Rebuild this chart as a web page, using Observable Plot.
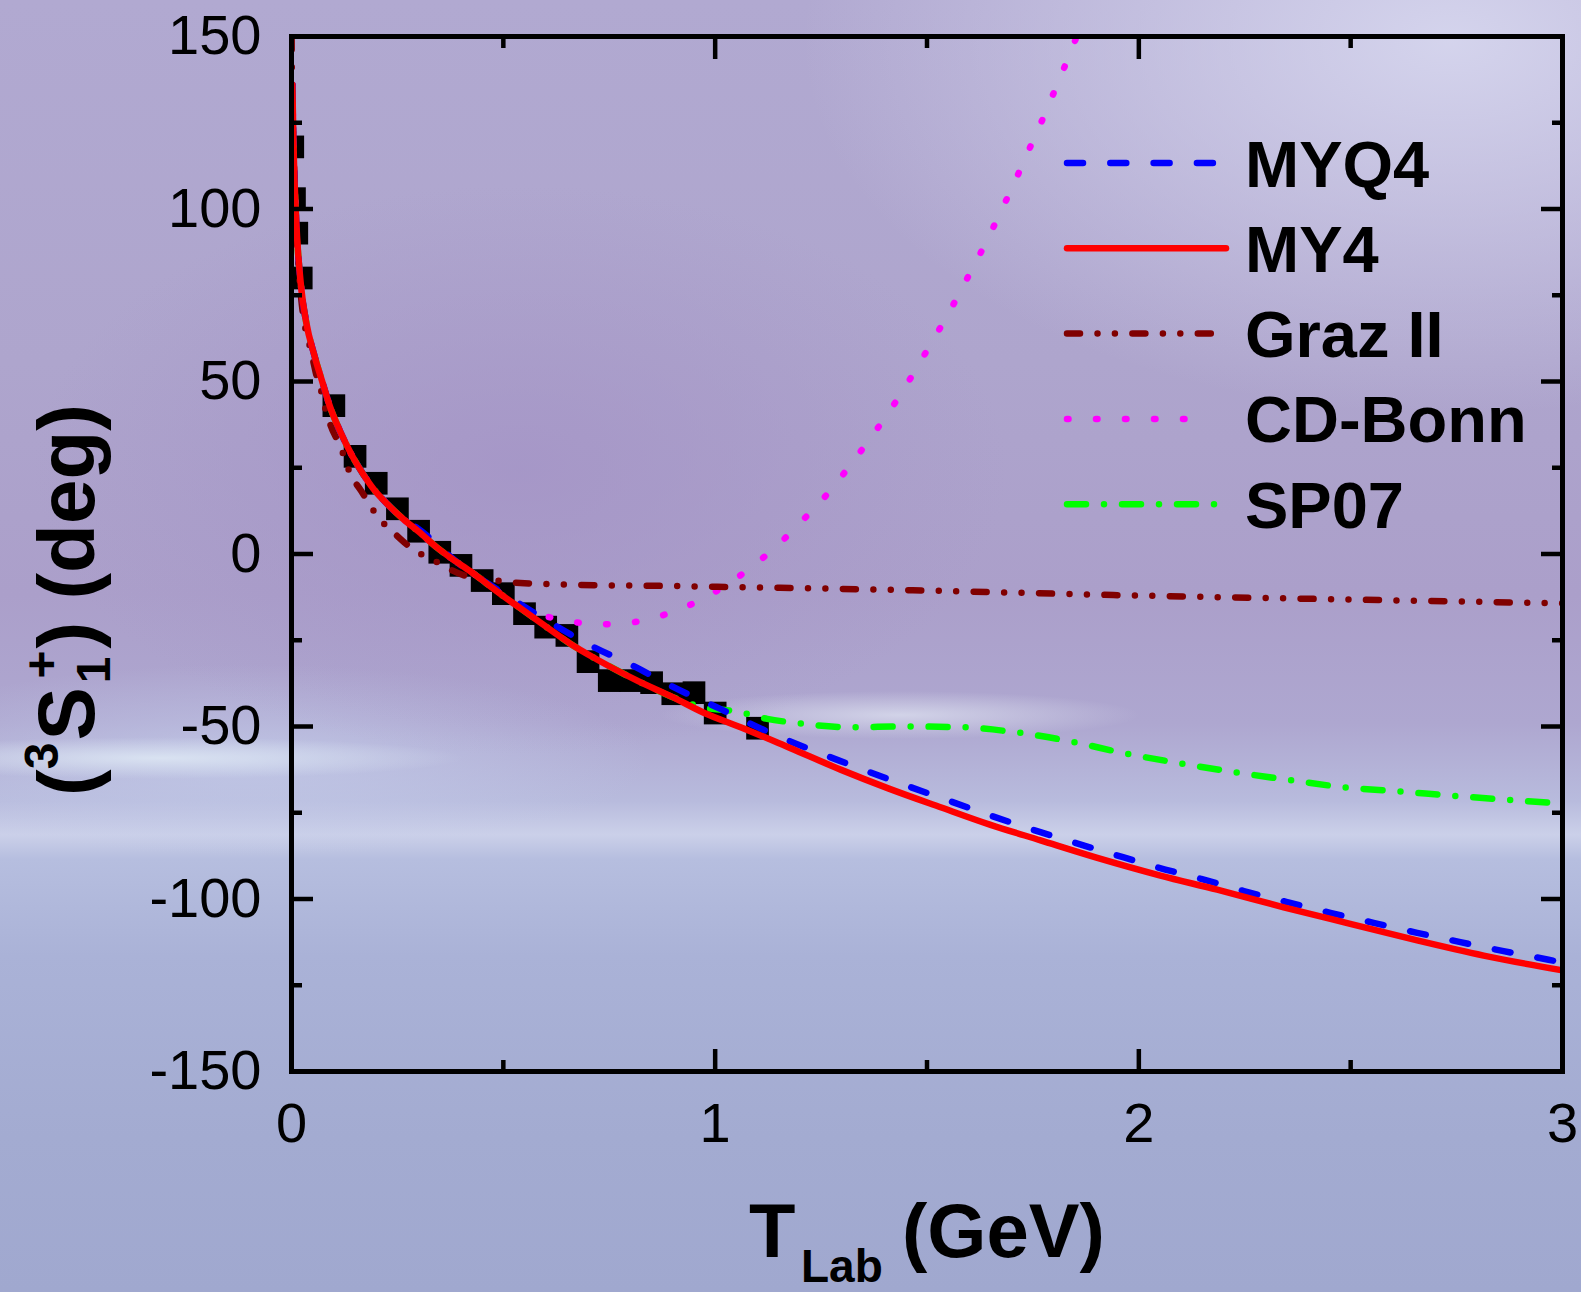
<!DOCTYPE html>
<html>
<head>
<meta charset="utf-8">
<script src="https://cdn.jsdelivr.net/npm/d3@7"></script>
<script src="https://cdn.jsdelivr.net/npm/@observablehq/plot@0.6"></script>
<style>
html, body { margin: 0; padding: 0; width: 1581px; height: 1292px; overflow: hidden; }
body {
  background:
    radial-gradient(ellipse 900px 520px at 1450px 40px, rgba(214,214,238,0.95), rgba(214,214,238,0) 72%),
    radial-gradient(ellipse 650px 380px at 520px 470px, rgba(164,148,198,0.8), rgba(164,148,198,0) 75%),
    radial-gradient(ellipse 380px 26px at 160px 758px, rgba(222,232,244,0.85), rgba(222,232,244,0) 80%),
    radial-gradient(ellipse 300px 30px at 900px 715px, rgba(225,230,242,0.7), rgba(225,230,242,0) 80%),
    radial-gradient(ellipse 500px 120px at 250px 760px, rgba(196,205,234,0.7), rgba(196,205,234,0) 80%),
    linear-gradient(to bottom, #b1a9d1 0%, #aea5cd 28%, #ab9fca 46%, #aea7d0 56%, #b8bbdd 62%, #cbd0e9 64.6%, #b6bedf 66.5%, #aab2d7 74%, #a3abd1 88%, #a0a8cf 100%);
}
svg { display: block; }
</style>
</head>
<body>
<div id="chart"></div>
<script>
// ---- tick values ----
const xMajor = [0, 1, 2, 3];
const xMinor = [0.5, 1.5, 2.5];
const yMajor = [-150, -100, -50, 0, 50, 100, 150];
const yMinor = [-125, -75, -25, 25, 75, 125];

// ---- experimental points (squares) ----
const expT = [0.003, 0.007, 0.0125, 0.023, 0.1, 0.15, 0.2, 0.25, 0.3, 0.35, 0.4, 0.45, 0.5, 0.55, 0.6, 0.65, 0.7, 0.75, 0.8, 0.85, 0.9, 0.95, 1.0, 1.1];
const expV = [118, 103, 93, 80, 43, 28.3, 20.5, 13.1, 6.6, 0.5, -3.3, -7.7, -11.5, -17.3, -21.2, -23.6, -31.2, -36.7, -36.7, -37.3, -40.5, -40.2, -46.1, -50.5];

// ---- MYQ4 ----
const myq4T = [0.002, 0.005, 0.011, 0.023, 0.035, 0.053, 0.075, 0.09, 0.115, 0.143, 0.17, 0.194, 0.222, 0.265, 0.297, 0.395, 0.501, 0.603, 0.706, 0.808, 0.91, 1.012, 1.115, 1.323, 1.528, 1.732, 1.941, 2.043, 2.145, 2.248, 2.35, 2.452, 2.554, 2.657, 2.759, 2.861, 2.967, 3.0];
const myq4V = [136, 117, 97, 77, 67, 58, 49, 43, 35.5, 28.5, 23, 18.8, 15, 10, 7.5, -2.8, -11.5, -19.3, -26.5, -32.5, -39.1, -44.9, -51, -61.3, -70.5, -79.2, -87.1, -90.8, -94.1, -97.7, -100.9, -104, -106.9, -109.8, -112.5, -115.1, -117.6, -118.4];

// ---- MY4 ----
const my4T = [0.002, 0.005, 0.011, 0.023, 0.035, 0.053, 0.075, 0.09, 0.115, 0.143, 0.17, 0.194, 0.222, 0.265, 0.3, 0.344, 0.38, 0.422, 0.46, 0.501, 0.54, 0.6, 0.658, 0.72, 0.816, 0.9, 0.973, 1.06, 1.178, 1.296, 1.41, 1.532, 1.65, 1.768, 1.9, 2.051, 2.185, 2.342, 2.499, 2.657, 2.814, 3.0];
const my4V = [136, 117, 97, 77, 67, 58, 49, 43, 35.5, 28.5, 23, 18.8, 15, 10, 6.5, 1.8, -1.5, -5, -8.5, -12.3, -15.7, -21, -26, -30.5, -36.7, -41.5, -46, -50.2, -56.3, -62.5, -68, -73.4, -78.5, -83, -88, -93.2, -97.3, -102.4, -107.2, -112, -116.4, -120.7];

// ---- Graz II ----
const grazT = [0.0003, 0.001, 0.005, 0.011, 0.02, 0.027, 0.041, 0.05, 0.061, 0.068, 0.08, 0.092, 0.116, 0.139, 0.165, 0.202, 0.248, 0.283, 0.336, 0.407, 0.485, 0.54, 0.635, 0.737, 0.847, 1.005, 1.154, 1.5, 1.94, 2.5, 3.0];
const grazV = [150, 138, 117, 96, 78, 69.6, 61.4, 56.6, 50.8, 48.2, 42.1, 37.4, 31, 23.2, 18.2, 11.1, 5.4, 1.7, -1.9, -6.2, -7.7, -8.4, -8.8, -9.1, -9.2, -9.5, -9.8, -10.6, -11.9, -13.2, -14.3];

// ---- CD-Bonn ----
const cdbT = [0.002, 0.005, 0.011, 0.023, 0.035, 0.053, 0.075, 0.09, 0.115, 0.143, 0.17, 0.194, 0.222, 0.265, 0.3, 0.344, 0.38, 0.422, 0.46, 0.501, 0.55, 0.6, 0.662, 0.724, 0.784, 0.846, 0.908, 0.969, 1.032, 1.091, 1.152, 1.213, 1.269, 1.318, 1.363, 1.407, 1.447, 1.484, 1.52, 1.555, 1.588, 1.62, 1.651, 1.681, 1.709, 1.736, 1.764, 1.79, 1.816, 1.841, 1.86];
const cdbV = [136, 117, 97, 77, 67, 58, 49, 43, 35.5, 28.5, 23, 18.8, 15, 10, 6.5, 1.8, -1.5, -5, -8.5, -12, -15.5, -18, -19.6, -20.4, -20.1, -18.8, -16.4, -13.1, -8.5, -3.3, 3.1, 10.6, 18, 25.6, 33, 40.6, 48.1, 55.7, 63.2, 70.7, 78.3, 85.7, 93.3, 101, 108.4, 115.9, 123.5, 131, 138.6, 146.2, 152];

// ---- SP07 ----
const sp07T = [0.002, 0.005, 0.011, 0.023, 0.035, 0.053, 0.075, 0.09, 0.115, 0.143, 0.17, 0.194, 0.222, 0.265, 0.3, 0.344, 0.38, 0.422, 0.46, 0.501, 0.54, 0.6, 0.658, 0.72, 0.816, 0.9, 0.973, 1.036, 1.06, 1.123, 1.186, 1.319, 1.453, 1.579, 1.705, 1.838, 1.964, 2.094, 2.224, 2.354, 2.484, 2.613, 2.743, 2.873, 2.979, 3.0];
const sp07V = [136, 117, 97, 77, 67, 58, 49, 43, 35.5, 28.5, 23, 18.8, 15, 10, 6.5, 1.8, -1.5, -5, -8.5, -12.3, -15.7, -21, -26, -30.5, -36.7, -41.5, -44.5, -45.4, -45.9, -47.8, -48.9, -50.2, -50, -50.2, -51.6, -54.3, -57.7, -60.6, -63.2, -65.5, -67.6, -68.8, -70.1, -71.3, -72.2, -72.4];

const seriesNames = ["MYQ4", "MY4", "Graz II", "CD-Bonn", "SP07"];

// ---- build tables for the library ----
const zip = (T, V) => T.map((t, i) => ({T: t, V: V[i]}));
const expRows = zip(expT, expV);
const lineData = {
  "MYQ4": zip(myq4T, myq4V),
  "MY4": zip(my4T, my4V),
  "Graz II": zip(grazT, grazV),
  "CD-Bonn": zip(cdbT, cdbV),
  "SP07": zip(sp07T, sp07V)
};
const styles = {
  "MYQ4":    {stroke: "#0000ff", strokeWidth: 6.5, strokeDasharray: "16,27.3"},
  "MY4":     {stroke: "#ff0000", strokeWidth: 6.5, strokeDasharray: null},
  "Graz II": {stroke: "#800000", strokeWidth: 6.5, strokeDasharray: "13,17.5,0,17.4,0,17.5"},
  "CD-Bonn": {stroke: "#ff00ff", strokeWidth: 6.5, strokeDasharray: "1.5,27.5"},
  "SP07":    {stroke: "#00ff00", strokeWidth: 6.5, strokeDasharray: "19,18,0,18"}
};
const drawOrder = ["SP07", "CD-Bonn", "Graz II", "MYQ4", "MY4"];

const tickFont = 56;
const lineMark = (name) => Plot.line(lineData[name], {
  x: "T", y: "V", curve: "monotone-x", clip: true,
  stroke: styles[name].stroke, strokeWidth: styles[name].strokeWidth,
  strokeDasharray: styles[name].strokeDasharray, strokeLinecap: "round", strokeLinejoin: "round"
});

const chart = Plot.plot({
  width: 1581, height: 1292,
  marginLeft: 291, marginRight: 19, marginTop: 36, marginBottom: 221,
  style: {background: "transparent", fontFamily: "'Liberation Sans', Arial, sans-serif", color: "black", overflow: "visible"},
  x: {domain: [0, 3], label: null},
  y: {domain: [-150, 150], label: null},
  marks: [
    Plot.dot(expRows, {x: "T", y: "V", symbol: "square", r: 12.8, fill: "black", clip: true}),
    ...drawOrder.map(lineMark),
    Plot.frame({stroke: "black", strokeWidth: 5}),
    Plot.axisX(xMajor, {anchor: "bottom", tickSize: -22, tickPadding: 53, strokeWidth: 4.5, fontSize: tickFont, tickFormat: d => String(d), label: null}),
    Plot.axisX(xMinor, {anchor: "bottom", tickSize: -11, strokeWidth: 4.5, tickFormat: () => "", label: null}),
    Plot.axisX(xMajor, {anchor: "top", tickSize: -22, strokeWidth: 4.5, tickFormat: () => "", label: null}),
    Plot.axisX(xMinor, {anchor: "top", tickSize: -11, strokeWidth: 4.5, tickFormat: () => "", label: null}),
    Plot.axisY(yMajor, {anchor: "left", tickSize: -22, tickPadding: 52, strokeWidth: 4.5, fontSize: tickFont, tickFormat: d => String(d), label: null}),
    Plot.axisY(yMinor, {anchor: "left", tickSize: -11, strokeWidth: 4.5, tickFormat: () => "", label: null}),
    Plot.axisY(yMajor, {anchor: "right", tickSize: -22, strokeWidth: 4.5, tickFormat: () => "", label: null}),
    Plot.axisY(yMinor, {anchor: "right", tickSize: -11, strokeWidth: 4.5, tickFormat: () => "", label: null})
  ]
});
document.getElementById("chart").appendChild(chart);

// ---- legend, axis titles (layout) ----
const svg = d3.select(chart);
const font = "'Liberation Sans', Arial, sans-serif";
const leg = svg.append("g").attr("font-family", font).attr("font-weight", "bold")
  .attr("font-size", 65).attr("text-anchor", "start");
const legLen = {"MYQ4": 153, "MY4": 159, "Graz II": 153, "CD-Bonn": 133, "SP07": 154};
seriesNames.forEach((name, i) => {
  const y = 163 + i * 85.3;
  const s = styles[name];
  leg.append("line")
    .attr("x1", 1067).attr("x2", 1067 + legLen[name])
    .attr("y1", y).attr("y2", y)
    .attr("stroke", s.stroke).attr("stroke-width", s.strokeWidth)
    .attr("stroke-linecap", "round")
    .attr("stroke-dasharray", s.strokeDasharray);
  leg.append("text").attr("x", 1245).attr("y", y + 23.5)
    .attr("text-anchor", "start").attr("fill", "black").text(name);
});

const titles = svg.append("g").attr("font-family", font).attr("font-weight", "bold")
  .attr("fill", "black").attr("text-anchor", "start");
titles.append("text").attr("x", 749).attr("y", 1257).attr("font-size", 76).attr("text-anchor", "start").text("T");
titles.append("text").attr("x", 801).attr("y", 1282).attr("font-size", 46).attr("text-anchor", "start").text("Lab");
titles.append("text").attr("x", 902).attr("y", 1257).attr("font-size", 76).attr("text-anchor", "start").text("(GeV)");

const yt = titles.append("text")
  .attr("transform", "translate(94,600) rotate(-90)")
  .attr("text-anchor", "middle").attr("font-size", 80);
yt.append("tspan").text("(");
yt.append("tspan").attr("font-size", 48).attr("dy", -36).text("3");
yt.append("tspan").attr("dy", 36).attr("dx", 2).text("S");
yt.append("tspan").attr("font-size", 48).attr("dy", 16).attr("dx", 4).text("1");
yt.append("tspan").attr("font-size", 48).attr("dx", -22).attr("dy", -52).text("+");
yt.append("tspan").attr("dy", 36).attr("dx", 2).text(")");
yt.append("tspan").text("\u00a0(deg)");
</script>
</body>
</html>
